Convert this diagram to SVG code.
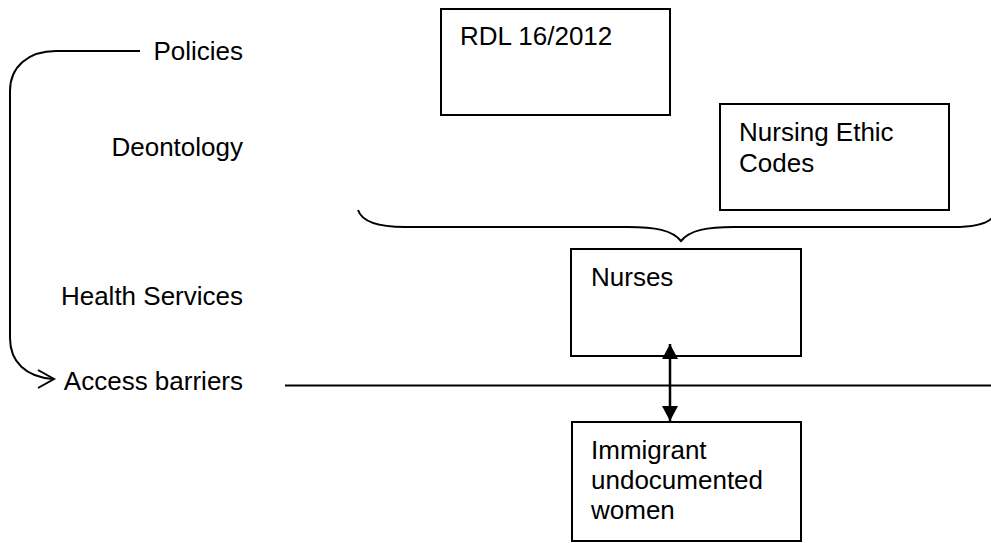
<svg xmlns="http://www.w3.org/2000/svg" width="991" height="543" viewBox="0 0 991 543">
  <style>
    text { font-family: "Liberation Sans", Arial, sans-serif; font-size: 26px; fill: #000; }
    .lbl { text-anchor: end; }
    .box { fill: #fff; stroke: #000; stroke-width: 2; }
    .ln { fill: none; stroke: #000; stroke-width: 2; }
    .dbl { fill: none; stroke: #000; stroke-width: 2.5; }
  </style>
  <defs>
    <marker id="tri" viewBox="0 0 15 16" refX="15" refY="8" markerWidth="15" markerHeight="16" markerUnits="userSpaceOnUse" orient="auto-start-reverse">
      <path d="M0,0 L15,8 L0,16 Z" fill="#000"/>
    </marker>
  </defs>

  <!-- level labels on the left -->
  <g id="labels">
    <text class="lbl" x="243" y="60">Policies</text>
    <text class="lbl" x="243" y="156">Deontology</text>
    <text class="lbl" x="243" y="305">Health Services</text>
    <text class="lbl" x="243" y="390">Access barriers</text>
  </g>

  <g id="rdl">
    <rect class="box" x="441" y="9" width="229" height="106"/>
    <text x="460" y="45">RDL 16/2012</text>
  </g>

  <g id="ethic-codes">
    <rect class="box" x="720" y="104" width="229" height="106"/>
    <text x="739" y="141">Nursing Ethic</text>
    <text x="739" y="172">Codes</text>
  </g>

  <g id="nurses">
    <rect class="box" x="571" y="249" width="230" height="107"/>
    <text x="591" y="286">Nurses</text>
  </g>

  <g id="women">
    <rect class="box" x="572" y="422" width="229" height="119"/>
    <text x="591" y="459">Immigrant</text>
    <text x="591" y="489">undocumented</text>
    <text x="591" y="519">women</text>
  </g>

  <g id="connectors">
    <!-- policies down to access barriers -->
    <path class="ln" d="M140,51 H56 C28,51 10,67 10,91 V338 C10,362 26,377 53,379"/>
    <path class="ln" d="M38,370 L54,379 L38,388"/>
    <!-- brace grouping the regulations above the nurses -->
    <path class="ln" d="M358,210 C362,222 380,227 405,227 H628 C655,227 672,230 681,241 C690,230 707,227 734,227 H953 C975,227 988,223 993,217"/>
    <!-- access barrier line -->
    <line class="ln" x1="285" y1="385.5" x2="991" y2="385.5"/>
    <!-- nurses and women -->
    <line class="dbl" x1="670" y1="344" x2="670" y2="421" marker-start="url(#tri)" marker-end="url(#tri)"/>
  </g>
</svg>
